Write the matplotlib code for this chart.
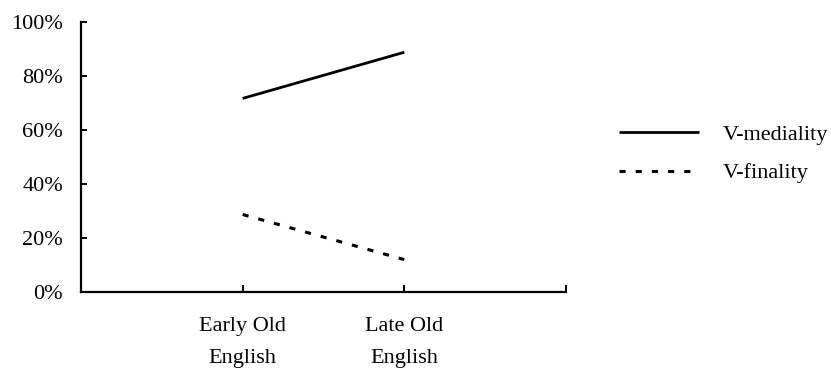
import matplotlib as mpl
mpl.use('Agg')
import matplotlib.pyplot as plt
from matplotlib.ticker import FuncFormatter

# data
periods = ['Early Old\nEnglish', 'Late Old\nEnglish']
v_mediality = [71.7, 88.8]
v_finality = [28.7, 12.0]
y_ticks = [0, 20, 40, 60, 80, 100]

plt.rcParams['font.family'] = ['Liberation Serif', 'DejaVu Serif']
FS = 16

fig = plt.figure(figsize=(8.31, 3.70), dpi=100)
ax = fig.add_axes([81 / 831, 78 / 370, 485 / 831, 270 / 370])

xs = [i + 1 for i in range(len(periods))]
ax.plot(xs, v_mediality, color='black', linewidth=2.0,
        solid_capstyle='butt', label='V-mediality')
ax.plot(xs, v_finality, color='black', linewidth=2.2,
        linestyle=(0, (2.0, 3.3)), dash_capstyle='butt', label='V-finality')

ax.set_xlim(0, 3)
ax.set_ylim(0, 100)
ax.set_xticks([1, 2, 3])
ax.set_xticklabels(periods + [''], fontsize=FS, linespacing=1.9)
ax.set_yticks(y_ticks)
ax.yaxis.set_major_formatter(FuncFormatter(lambda v, p: '{:d}%'.format(int(v))))
for lab in ax.get_yticklabels():
    lab.set_fontsize(FS)

ax.tick_params(axis='y', direction='in', length=4, width=1.4, pad=13)
ax.tick_params(axis='x', direction='in', length=5, width=1.4, pad=18)

for side in ['top', 'right']:
    ax.spines[side].set_visible(False)
for side in ['left', 'bottom']:
    ax.spines[side].set_linewidth(1.6)

fig.legend(loc='center left', bbox_to_anchor=(619 / 831, 1 - 154 / 370),
           frameon=False, fontsize=FS, handlelength=3.6, handletextpad=1.05,
           labelspacing=0.8, borderpad=0, borderaxespad=0)

fig.savefig('out.png', dpi=100)
